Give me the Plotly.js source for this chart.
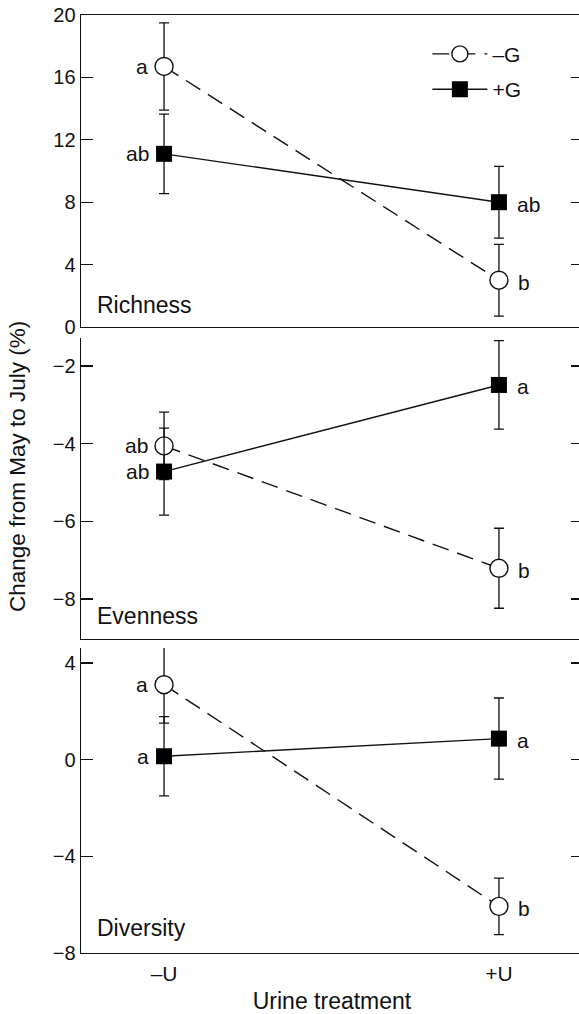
<!DOCTYPE html>
<html>
<head>
<meta charset="utf-8">
<script src="https://cdn.plot.ly/plotly-3.0.1.min.js"></script>
<style>
html, body { margin:0; padding:0; overflow:hidden; background:#fff; }
#chart { width:583px; height:1014px; }
</style>
</head>
<body>
<div id="chart"></div>
<script>
// ---- data ----
const categories = ['–U', '+U'];
const seriesNames = ['–G', '+G'];

const richnessMinusG = [16.7, 3.0];
const richnessMinusGErr = [2.8, 2.3];
const richnessPlusG = [11.1, 8.0];
const richnessPlusGErr = [2.55, 2.3];

const evennessMinusG = [-4.06, -7.21];
const evennessMinusGErr = [0.87, 1.03];
const evennessPlusG = [-4.72, -2.49];
const evennessPlusGErr = [1.12, 1.14];

const diversityMinusG = [3.1, -6.07];
const diversityMinusGErr = [1.59, 1.17];
const diversityPlusG = [0.14, 0.87];
const diversityPlusGErr = [1.64, 1.68];

const richnessMinusGLetters = ['a', 'b'];
const richnessPlusGLetters = ['ab', 'ab'];
const evennessMinusGLetters = ['ab', 'b'];
const evennessPlusGLetters = ['ab', 'a'];
const diversityMinusGLetters = ['a', 'b'];
const diversityPlusGLetters = ['a', 'a'];

const panelNames = ['Richness', 'Evenness', 'Diversity'];

// ---- build ----
const FONT = 'Liberation Sans, Arial, Helvetica, sans-serif';
const INK = '#111';

const panels = [
  {ax: '', mg: richnessMinusG, mgE: richnessMinusGErr, pg: richnessPlusG, pgE: richnessPlusGErr, mgL: richnessMinusGLetters, pgL: richnessPlusGLetters},
  {ax: '2', mg: evennessMinusG, mgE: evennessMinusGErr, pg: evennessPlusG, pgE: evennessPlusGErr, mgL: evennessMinusGLetters, pgL: evennessPlusGLetters},
  {ax: '3', mg: diversityMinusG, mgE: diversityMinusGErr, pg: diversityPlusG, pgE: diversityPlusGErr, mgL: diversityMinusGLetters, pgL: diversityPlusGLetters}
];

const traces = [];
const annotations = [];

panels.forEach((p, i) => {
  const xa = 'x' + p.ax, ya = 'y' + p.ax;
  traces.push({
    type: 'scatter', mode: 'lines+markers', x: categories, y: p.mg,
    xaxis: xa, yaxis: ya, name: seriesNames[0], legendgroup: 'mg', showlegend: i === 0,
    line: {color: INK, width: 1.4, dash: '17px,9px'},
    marker: {symbol: 'circle', size: 18, color: '#fff', line: {color: INK, width: 1.4}},
    error_y: {type: 'data', array: p.mgE, visible: true, color: INK, thickness: 1.3, width: 5},
    hoverinfo: 'skip'
  });
  traces.push({
    type: 'scatter', mode: 'lines+markers', x: categories, y: p.pg,
    xaxis: xa, yaxis: ya, name: seriesNames[1], legendgroup: 'pg', showlegend: i === 0,
    line: {color: INK, width: 1.4},
    marker: {symbol: 'square', size: 16, color: '#000', line: {color: '#000', width: 0}},
    error_y: {type: 'data', array: p.pgE, visible: true, color: INK, thickness: 1.3, width: 5},
    hoverinfo: 'skip'
  });
  [[p.mg, p.mgL, 9], [p.pg, p.pgL, 8]].forEach(([vals, letters, half]) => {
    categories.forEach((c, j) => {
      const left = j === 0;
      annotations.push({
        xref: xa, yref: ya, x: c, y: vals[j], text: letters[j], showarrow: false,
        xanchor: left ? 'right' : 'left', yanchor: 'middle',
        xshift: left ? -(half + 5) : (half + 8), yshift: left ? 0 : -2,
        font: {family: FONT, size: 21, color: INK}
      });
    });
  });
  annotations.push({
    xref: xa + ' domain', yref: ya + ' domain', x: 0, y: 0, text: panelNames[i],
    showarrow: false, xanchor: 'left', yanchor: 'middle', xshift: 14, yshift: [22, 23, 25][i],
    font: {family: FONT, size: 23, color: INK}
  });
});

annotations.push({
  xref: 'paper', yref: 'paper', x: 0, y: 0.518, xanchor: 'center', yanchor: 'middle',
  xshift: -64, text: 'Change from May to July (%)', textangle: -90, showarrow: false,
  font: {family: FONT, size: 22.5, color: INK}
});

const xBase = {
  range: [-0.248, 1.251], type: 'category', categoryorder: 'array', categoryarray: categories,
  showline: true, linecolor: INK, linewidth: 1.4, ticks: '', showgrid: false, zeroline: false,
  tickfont: {family: FONT, size: 21, color: INK}
};
const yBase = {
  showline: true, linecolor: INK, linewidth: 1.4, ticks: 'inside', ticklen: 12, tickwidth: 1.3,
  tickcolor: INK, mirror: 'ticks', showgrid: false, zeroline: false,
  tickfont: {family: FONT, size: 20, color: INK}
};

const layout = {
  width: 583, height: 1014,
  margin: {l: 81, r: 0, t: 15, b: 61},
  paper_bgcolor: '#fff', plot_bgcolor: '#fff',
  font: {family: FONT, color: INK},
  showlegend: true,
  legend: {
    x: 0.690, y: 0.980, xanchor: 'left', yanchor: 'top', bgcolor: 'rgba(0,0,0,0)',
    itemwidth: 55, traceorder: 'grouped', tracegroupgap: 5,
    font: {family: FONT, size: 21, color: INK}
  },
  xaxis: Object.assign({}, xBase, {anchor: 'y', mirror: true, showticklabels: false}),
  xaxis2: Object.assign({}, xBase, {anchor: 'y2', showticklabels: false}),
  xaxis3: Object.assign({}, xBase, {anchor: 'y3', showticklabels: true, ticklabelstandoff: 1,
    title: {text: 'Urine treatment', font: {family: FONT, size: 23, color: INK}, standoff: 20}}),
  yaxis: Object.assign({}, yBase, {anchor: 'x', domain: [0.6674, 1], range: [0, 20], tickvals: [0, 4, 8, 12, 16, 20]}),
  yaxis2: Object.assign({}, yBase, {anchor: 'x2', domain: [0.3348, 0.6557], range: [-9.03, -1.28], tickvals: [-8, -6, -4, -2]}),
  yaxis3: Object.assign({}, yBase, {anchor: 'x3', domain: [0, 0.3252], range: [-8, 4.62], tickvals: [-8, -4, 0, 4]}),
  annotations: annotations
};

Plotly.newPlot('chart', traces, layout, {staticPlot: true, displayModeBar: false});
</script>
</body>
</html>
